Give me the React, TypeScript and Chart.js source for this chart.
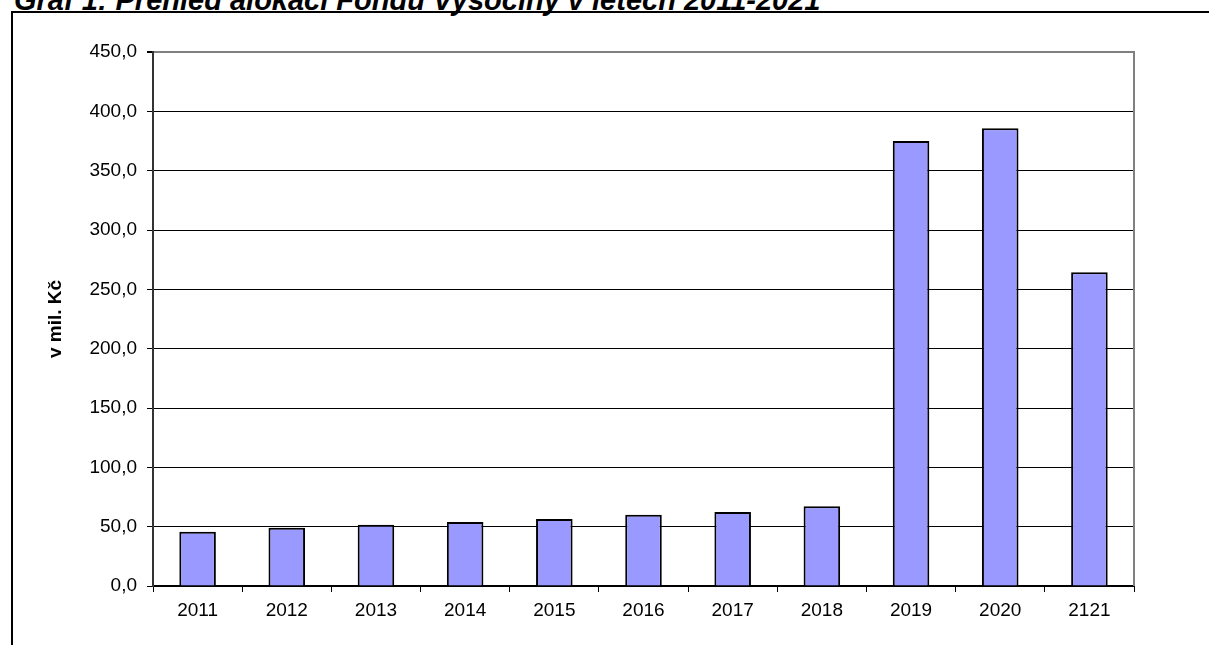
import React, { useEffect, useRef } from "react";
import { Chart, registerables } from "chart.js";

Chart.register(...registerables);

const TITLE = "Graf 1: Přehled alokací Fondu Vysočiny v letech 2011-2021";
const Y_TITLE = "v mil. Kč";
const CATEGORIES = ["2011", "2012", "2013", "2014", "2015", "2016", "2017", "2018", "2019", "2020", "2121"];
const VALUES = [45.7, 49.1, 51.6, 53.9, 56.4, 60.1, 62.3, 67.1, 375.1, 385.8, 264.5];
const Y_MIN = 0;
const Y_MAX = 450;
const Y_STEP = 50;

const FONT = "'Liberation Sans', Arial, sans-serif";

const rightBorder = {
  id: "rightBorder",
  afterDatasetsDraw(chart: any) {
    const { ctx, chartArea } = chart;
    ctx.save();
    ctx.strokeStyle = "#808080";
    ctx.lineWidth = 2;
    ctx.beginPath();
    ctx.moveTo(chartArea.right, chartArea.top - 1);
    ctx.lineTo(chartArea.right, chartArea.bottom);
    ctx.stroke();
    ctx.restore();
  },
};

export default function App() {
  const ref = useRef<HTMLCanvasElement | null>(null);

  useEffect(() => {
    if (!ref.current) return;
    const chart = new Chart(ref.current, {
      type: "bar",
      data: {
        labels: CATEGORIES,
        datasets: [
          {
            data: VALUES,
            backgroundColor: "#9999ff",
            borderColor: "#000000",
            borderWidth: 2,
            barPercentage: 0.41,
            categoryPercentage: 1,
          },
        ],
      },
      options: {
        animation: false,
        responsive: false,
        maintainAspectRatio: false,
        layout: { padding: { left: 0, top: 52, right: 75, bottom: 0 } },
        plugins: {
          legend: { display: false },
          tooltip: { enabled: false },
          title: { display: false },
        },
        scales: {
          x: {
            afterFit: (s: any) => {
              s.height = 59;
            },
            grid: {
              display: true,
              drawOnChartArea: false,
              drawTicks: true,
              tickLength: 6,
              color: "#000000",
              offset: true,
            },
            border: { display: true, color: "#000000", width: 2 },
            ticks: {
              color: "#000000",
              padding: 7,
              font: { family: FONT, size: 19 },
              maxRotation: 0,
              autoSkip: false,
            },
          },
          y: {
            min: Y_MIN,
            max: Y_MAX,
            afterFit: (s: any) => {
              s.width = 153;
            },
            grid: {
              color: (c: any) => (c.tick && c.tick.value === Y_MAX ? "#808080" : "#000000"),
              lineWidth: (c: any) => (c.tick && c.tick.value === Y_MAX ? 2 : 1),
              tickColor: "#000000",
              drawTicks: true,
              tickLength: 6,
            },
            border: { display: true, color: "#333333", width: 2 },
            ticks: {
              stepSize: Y_STEP,
              color: "#000000",
              padding: 10,
              font: { family: FONT, size: 19 },
              callback: (v: any) => Number(v).toFixed(1).replace(".", ","),
            },
            title: {
              display: true,
              text: Y_TITLE,
              color: "#000000",
              font: { family: FONT, size: 19, weight: "bold" },
              padding: { top: 44, bottom: 4 },
            },
          },
        },
      },
      plugins: [rightBorder],
    });
    return () => chart.destroy();
  }, []);

  return (
    <div
      style={{
        position: "fixed",
        left: 0,
        top: 0,
        width: 1209,
        height: 645,
        overflow: "hidden",
        background: "#ffffff",
      }}
    >
      <div
        style={{
          position: "absolute",
          left: 14,
          top: -14,
          whiteSpace: "nowrap",
          fontFamily: FONT,
          fontSize: 29,
          lineHeight: "29px",
          fontWeight: "bold",
          fontStyle: "italic",
          color: "#000000",
        }}
      >
        {TITLE}
      </div>
      <div
        style={{
          position: "absolute",
          left: 11,
          top: 11,
          width: 1300,
          height: 700,
          borderLeft: "2px solid #000000",
          borderTop: "2px solid #000000",
          boxSizing: "border-box",
          background: "transparent",
        }}
      />
      <canvas
        ref={ref}
        width={1209}
        height={645}
        style={{ position: "absolute", left: 0, top: 0, width: 1209, height: 645 }}
      />
    </div>
  );
}
